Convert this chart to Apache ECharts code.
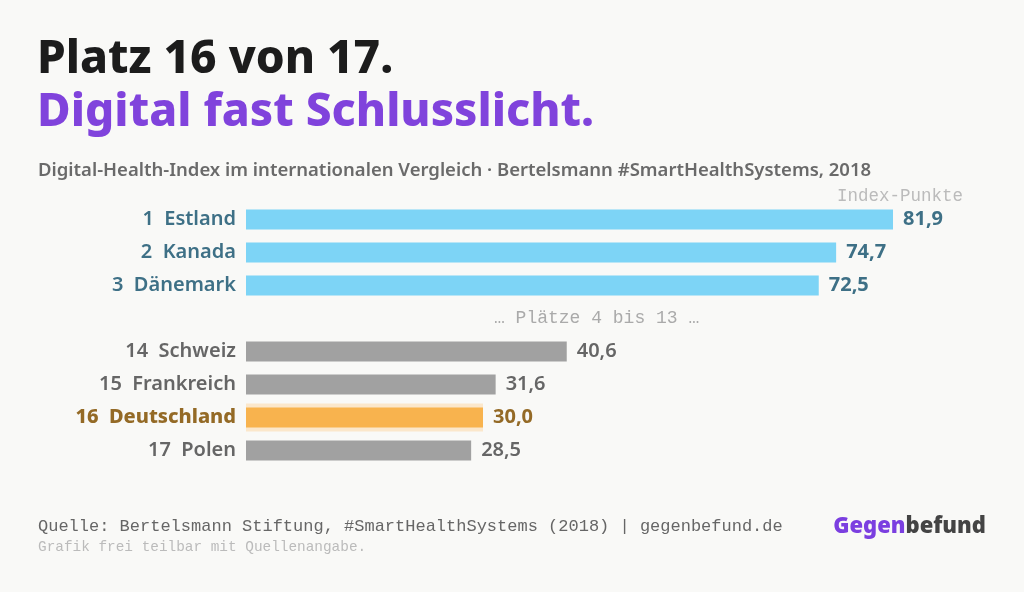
<!DOCTYPE html>
<html>
<head>
<meta charset="utf-8">
<script src="https://cdn.jsdelivr.net/npm/echarts@6/dist/echarts.min.js"></script>
<style>
  html, body { margin: 0; padding: 0; background: #f9f9f7; }
  #chart { width: 1024px; height: 592px; }
</style>
</head>
<body>
<div id="chart"></div>
<script>
// Bertelsmann Digital-Health-Index 2018, Auswahl
const ranks = ['1', '2', '3', '', '14', '15', '16', '17']
const countries = ['Estland', 'Kanada', 'Dänemark', '', 'Schweiz', 'Frankreich', 'Deutschland', 'Polen']
const values = [81.9, 74.7, 72.5, null, 40.6, 31.6, 30.0, 28.5]
// group per row: top = Spitzengruppe, rest = Schluss, hi = Deutschland
const groups = ['top', 'top', 'top', 'gap', 'rest', 'rest', 'hi', 'rest']

const barColor = { top: '#7dd4f6', rest: '#a1a1a1', hi: '#f8b34e' }
const textColor = { top: '#3e7086', rest: '#666666', hi: '#946a26' }

const sans = '"Noto Sans", sans-serif'
const mono = '"Liberation Mono", "DejaVu Sans Mono", monospace'

const chart = echarts.init(document.getElementById('chart'))

const fmt = v => v.toFixed(1).replace('.', ',')
const cats = countries.map((c, i) => c || 'gap' + i)

const option = {
    backgroundColor: '#f9f9f7',
    animation: false,
    grid: { left: 246, right: 67, top: 203, bottom: 125 },
    xAxis: {
        type: 'value',
        min: 0,
        max: 90,
        show: false
    },
    yAxis: [
        {
            type: 'category',
            inverse: true,
            data: cats,
            axisLine: { show: false },
            axisTick: { show: false },
            axisLabel: {
                margin: 10,
                formatter: (v, i) => {
                    const g = groups[i]
                    if (g === 'gap') return ''
                    return `{${g}|${ranks[i]}  ${countries[i]}}`
                },
                rich: {
                    top: { color: textColor.top, fontFamily: sans, fontWeight: 600, fontSize: 20 },
                    rest: { color: textColor.rest, fontFamily: sans, fontWeight: 600, fontSize: 20 },
                    hi: { color: textColor.hi, fontFamily: sans, fontWeight: 800, fontSize: 20 }
                }
            }
        },
        {
            // zweite, unsichtbare Achse nur für den Rahmen hinter Deutschland
            type: 'category',
            inverse: true,
            data: cats,
            show: false
        }
    ],
    series: [
        {
            type: 'bar',
            yAxisIndex: 1,
            silent: true,
            barWidth: 28,
            data: values.map((v, i) => groups[i] === 'hi' ? v : null),
            itemStyle: { color: '#fbe7cb' }
        },
        {
            type: 'bar',
            yAxisIndex: 0,
            barWidth: 20,
            data: values.map((v, i) => ({
                value: v,
                itemStyle: { color: barColor[groups[i]] || '#ccc' },
                label: { color: textColor[groups[i]] || '#666', fontWeight: groups[i] === 'rest' ? 600 : 700 }
            })),
            label: {
                show: true,
                position: 'right',
                distance: 10,
                fontFamily: sans,
                fontSize: 20,
                formatter: p => p.value == null ? '' : fmt(p.value)
            }
        }
    ],
    graphic: [
        {
            type: 'text', left: 37, top: 37,
            style: { text: 'Platz 16 von 17.', fill: '#1c1c1c', font: `800 46px ${sans}` }
        },
        {
            type: 'text', left: 37, top: 90,
            style: { text: 'Digital fast Schlusslicht.', fill: '#8043dc', font: `800 46px ${sans}` }
        },
        {
            type: 'text', left: 38, top: 161,
            style: {
                text: 'Digital-Health-Index im internationalen Vergleich · Bertelsmann #SmartHealthSystems, 2018',
                fill: '#6a6a6a', font: `600 18.5px ${sans}`
            }
        },
        {
            type: 'text', right: 61, top: 187,
            style: { text: 'Index-Punkte', fill: '#bbbbbb', font: `17.5px ${mono}` }
        },
        {
            type: 'text', left: 494, top: 309,
            style: { text: '… Plätze 4 bis 13 …', fill: '#aaaaaa', font: `18px ${mono}` }
        },
        {
            type: 'text', left: 38, top: 518,
            style: {
                text: 'Quelle: Bertelsmann Stiftung, #SmartHealthSystems (2018) | gegenbefund.de',
                fill: '#666666', font: `17px ${mono}`
            }
        },
        {
            type: 'text', left: 38, top: 540,
            style: { text: 'Grafik frei teilbar mit Quellenangabe.', fill: '#bbbbbb', font: `14.4px ${mono}` }
        },
        {
            type: 'text', right: 38, top: 516,
            style: {
                text: '{a|Gegen}{b|befund}',
                rich: {
                    a: { fill: '#7b3fe0', font: `900 22px ${sans}` },
                    b: { fill: '#444444', font: `900 22px ${sans}` }
                }
            }
        }
    ]
}

chart.setOption(option)
</script>
</body>
</html>
